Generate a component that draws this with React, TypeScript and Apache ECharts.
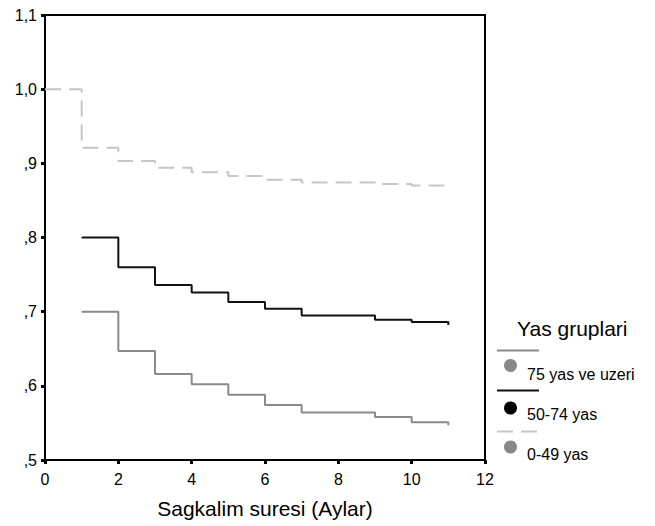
import React, { useEffect, useRef } from "react";
import * as echarts from "echarts";

// Survival step data (months, cumulative survival)
const seriesNames = ["75 yas ve uzeri", "50-74 yas", "0-49 yas"];

const months75 = [1, 2, 3, 4, 5, 6, 7, 9, 10, 11, 11];
const surv75 = [0.7, 0.647, 0.616, 0.602, 0.588, 0.574, 0.564, 0.558, 0.551, 0.551, 0.547];

const months5074 = [1, 2, 3, 4, 5, 6, 7, 9, 10, 11, 11];
const surv5074 = [0.8, 0.76, 0.736, 0.726, 0.713, 0.704, 0.695, 0.689, 0.686, 0.686, 0.682];

const months049 = [0, 1, 2, 3, 4, 5, 6, 7, 9, 10, 11, 11];
const surv049 = [1.0, 0.921, 0.903, 0.894, 0.888, 0.883, 0.878, 0.874, 0.872, 0.87, 0.87, 0.868];

const xTicks = [0, 2, 4, 6, 8, 10, 12];
const yTickLabels = [",5", ",6", ",7", ",8", ",9", "1,0", "1,1"];

const legendTitle = "Yas gruplari";
const xAxisTitle = "Sagkalim suresi (Aylar)";

const FONT = "'Liberation Sans', Arial, sans-serif";

const zip = (xs: number[], ys: number[]) => xs.map((x, i) => [x, ys[i]]);

export default function App() {
  const ref = useRef<HTMLDivElement>(null);

  useEffect(() => {
    if (!ref.current) return;
    const chart = echarts.init(ref.current, null, { renderer: "svg" });

    const colors = ["#8a8a8a", "#111111", "#c6c6c6"];
    const lineTypes: any[] = ["solid", "solid", [16, 8]];
    const legendY = [350.5, 390.5, 431.5];
    const circleY = [365.5, 408, 447];
    const circleColors = ["#888888", "#000000", "#888888"];
    const textY = [374, 414, 454];

    const legendGraphics: any[] = [
      {
        type: "text",
        left: 517,
        top: 318,
        style: { text: legendTitle, font: `21px ${FONT}`, fill: "#000" },
      },
    ];
    seriesNames.forEach((name, i) => {
      legendGraphics.push({
        type: "line",
        shape: { x1: 497, y1: legendY[i], x2: 539, y2: legendY[i] },
        style: { stroke: colors[i], lineWidth: 2, lineDash: i === 2 ? [16, 8] : null },
      });
      legendGraphics.push({
        type: "circle",
        shape: { cx: 510.5, cy: circleY[i], r: 6.5 },
        style: { fill: circleColors[i] },
      });
      legendGraphics.push({
        type: "text",
        x: 527,
        y: textY[i],
        style: {
          text: name,
          font: `16px ${FONT}`,
          fill: "#000",
          textVerticalAlign: "middle",
          verticalAlign: "middle",
        },
      });
    });

    chart.setOption({
      animation: false,
      grid: {
        left: 45,
        right: 170,
        top: 15,
        bottom: 66,
        show: true,
        borderColor: "#000",
        borderWidth: 2,
        backgroundColor: "transparent",
      },
      xAxis: {
        type: "value",
        min: 0,
        max: 12,
        interval: 2,
        name: xAxisTitle,
        nameLocation: "middle",
        nameGap: 38,
        nameTextStyle: { fontFamily: FONT, fontSize: 21, color: "#000" },
        axisLine: { lineStyle: { color: "#000", width: 2 } },
        axisTick: { show: true, length: 4, lineStyle: { color: "#000", width: 3 } },
        axisLabel: {
          fontFamily: FONT,
          fontSize: 16,
          color: "#000",
          margin: 11,
          formatter: (v: number) => (xTicks.includes(v) ? String(v) : ""),
        },
        splitLine: { show: false },
      },
      yAxis: {
        type: "value",
        min: 0.5,
        max: 1.1,
        interval: 0.1,
        axisLine: { show: true, lineStyle: { color: "#000", width: 2 } },
        axisTick: { show: true, length: 4, lineStyle: { color: "#000", width: 3 } },
        axisLabel: {
          fontFamily: FONT,
          fontSize: 16,
          color: "#000",
          margin: 8,
          formatter: (_v: number, idx: number) => yTickLabels[idx] ?? "",
        },
        splitLine: { show: false },
      },
      series: [
        {
          name: seriesNames[0],
          type: "line",
          step: "end",
          symbol: "none",
          data: zip(months75, surv75),
          lineStyle: { color: colors[0], width: 2, type: lineTypes[0] },
        },
        {
          name: seriesNames[1],
          type: "line",
          step: "end",
          symbol: "none",
          data: zip(months5074, surv5074),
          lineStyle: { color: colors[1], width: 2, type: lineTypes[1] },
        },
        {
          name: seriesNames[2],
          type: "line",
          step: "end",
          symbol: "none",
          data: zip(months049, surv049),
          lineStyle: { color: colors[2], width: 2, type: lineTypes[2] },
        },
      ],
      graphic: legendGraphics,
    });

    return () => chart.dispose();
  }, []);

  return (
    <div
      ref={ref}
      style={{ position: "fixed", left: 0, top: 0, width: 655, height: 526, background: "#fff" }}
    />
  );
}
